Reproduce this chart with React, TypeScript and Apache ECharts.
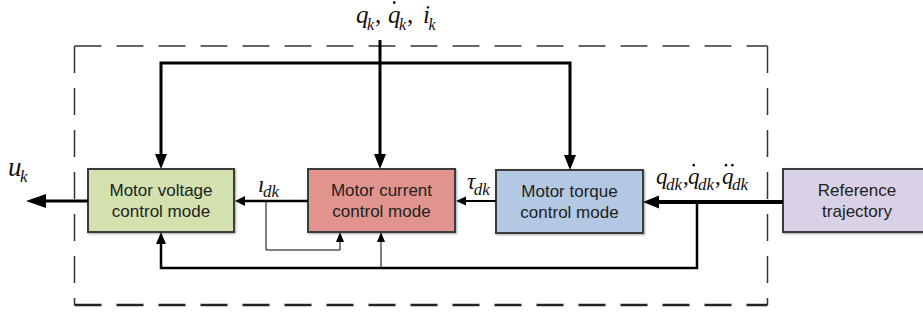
import React, { useEffect, useRef } from "react";
import * as echarts from "echarts";

// ---- diagram content ----
const blockLabels = [
  "Motor voltage\ncontrol mode",
  "Motor current\ncontrol mode",
  "Motor torque\ncontrol mode",
  "Reference\ntrajectory",
];
// acc: number of dots above the symbol (time derivatives)
const measuredSignals = [
  { base: "q", sub: "k", acc: 0 },
  { base: "q", sub: "k", acc: 1 },
  { base: "i", sub: "k", acc: 0 },
];
const desiredSignals = [
  { base: "q", sub: "dk", acc: 0 },
  { base: "q", sub: "dk", acc: 1 },
  { base: "q", sub: "dk", acc: 2 },
];
const currentRefSignal = [{ base: "ı", sub: "dk", acc: 0 }];
const torqueRefSignal = [{ base: "τ", sub: "dk", acc: 0 }];
const outputSignal = [{ base: "u", sub: "k", acc: 0 }];

type Part = { base: string; sub: string; acc: number };

const SERIF = '"Liberation Serif", "Times New Roman", serif';
const SANS = '"Liberation Sans", Arial, sans-serif';

let measureCtx: CanvasRenderingContext2D | null = null;
function measure(text: string, size: number) {
  if (!measureCtx) measureCtx = document.createElement("canvas").getContext("2d");
  measureCtx!.font = `italic ${size}px ${SERIF}`;
  return measureCtx!.measureText(text).width;
}

function txt(text: string, x: number, baseline: number, size: number, italic = true) {
  return {
    type: "text",
    silent: true,
    x,
    y: baseline - 0.34 * size,
    style: {
      text,
      fontSize: size,
      fontFamily: SERIF,
      fontStyle: italic ? "italic" : "normal",
      fill: "#111",
      align: "left",
      verticalAlign: "middle",
      textAlign: "left",
      textVerticalAlign: "middle",
    },
  };
}

function mathLabel(
  parts: Part[],
  xs: number[],
  baseline: number,
  size: number,
  subSize: number,
  subDrop: number
) {
  const els: any[] = [];
  parts.forEach((p, i) => {
    const x = xs[i];
    els.push(txt(p.base, x, baseline, size));
    const w = measure(p.base, size);
    for (let d = 0; d < p.acc; d++) {
      const cx = p.acc === 1 ? x + w * 0.5 : x + w * 0.35 + d * w * 0.55;
      els.push({
        type: "circle",
        silent: true,
        shape: { cx, cy: baseline - 0.82 * size, r: 1.4 },
        style: { fill: "#111" },
      });
    }
    const sx = x + w - 1.5;
    els.push(txt(p.sub, sx, baseline + subDrop, subSize));
    if (i < parts.length - 1) {
      const sw = measure(p.sub, subSize);
      els.push(txt(",", sx + sw + 1, baseline, size, false));
    }
  });
  return els;
}

function head(tipX: number, tipY: number, dir: "l" | "r" | "u" | "d", len: number, half: number) {
  let pts: number[][];
  if (dir === "l") pts = [[tipX, tipY], [tipX + len, tipY - half], [tipX + len, tipY + half]];
  else if (dir === "r") pts = [[tipX, tipY], [tipX - len, tipY - half], [tipX - len, tipY + half]];
  else if (dir === "d") pts = [[tipX, tipY], [tipX - half, tipY - len], [tipX + half, tipY - len]];
  else pts = [[tipX, tipY], [tipX - half, tipY + len], [tipX + half, tipY + len]];
  return { type: "polygon", silent: true, shape: { points: pts }, style: { fill: "#000" } };
}

function poly(points: number[][], lw: number, color = "#000", dash?: number[]) {
  return {
    type: "polyline",
    silent: true,
    shape: { points },
    style: { stroke: color, lineWidth: lw, fill: "none", lineDash: dash },
  };
}

export default function App() {
  const ref = useRef<HTMLDivElement>(null);
  useEffect(() => {
    if (!ref.current) return;
    const chart = echarts.init(ref.current, undefined, { renderer: "svg" });

    const boxes = [
      { x: 88, y: 169, w: 146, h: 63, fill: "#d3e1af" },
      { x: 308, y: 169, w: 147, h: 63, fill: "#e1948e" },
      { x: 496, y: 170, w: 147, h: 63, fill: "#b3c8e2" },
      { x: 783, y: 169, w: 148, h: 63, fill: "#d9d1e5" },
    ];

    const els: any[] = [];

    // dashed controller boundary
    const dash = [27, 15];
    els.push(poly([[74.5, 46], [767.5, 46]], 1.5, "#333", dash));
    els.push(poly([[74.5, 46], [74.5, 305]], 1.5, "#333", dash));
    els.push(poly([[767.5, 46], [767.5, 305]], 1.5, "#333", dash));
    els.push(poly([[74.5, 305], [767.5, 305]], 2.5, "#222", dash));

    // blocks
    boxes.forEach((b, i) => {
      els.push({
        type: "rect",
        silent: true,
        shape: { x: b.x, y: b.y, width: b.w, height: b.h },
        style: {
          fill: b.fill,
          stroke: "#3a3a3a",
          lineWidth: 2,
          shadowBlur: 2,
          shadowOffsetX: 1,
          shadowOffsetY: 1,
          shadowColor: "rgba(0,0,0,0.35)",
        },
      });
      els.push({
        type: "text",
        silent: true,
        x: b.x + b.w / 2,
        y: b.y + b.h / 2,
        style: {
          text: blockLabels[i],
          fontSize: 17,
          fontFamily: SANS,
          fill: "#222",
          lineHeight: 21,
          align: "center",
          verticalAlign: "middle",
          textAlign: "center",
          textVerticalAlign: "middle",
        },
      });
    });

    // top feedback bus (measured states)
    els.push(poly([[161, 155], [161, 63], [570, 63], [570, 156]], 3));
    els.push(head(161, 169, "d", 15, 6));
    els.push(head(570, 170, "d", 15, 6));
    els.push(poly([[380, 40], [380, 155]], 3));
    els.push(head(380, 169, "d", 15, 6));

    // output u_k
    els.push(poly([[88, 201], [42, 201]], 3));
    els.push(head(26, 201, "l", 20, 7));

    // current -> voltage
    els.push(poly([[308, 201], [243, 201]], 2.5));
    els.push(head(235, 201, "l", 10, 5));

    // i_dk branch into current block bottom
    els.push(poly([[266, 201], [266, 250], [340, 250], [340, 241]], 1));
    els.push(head(340, 232, "u", 10, 4));

    // torque -> current
    els.push(poly([[496, 201], [465, 201]], 2));
    els.push(head(456, 201, "l", 10, 4.5));

    // reference -> torque
    els.push(poly([[783, 202], [655, 202]], 4));
    els.push(head(643, 202, "l", 16, 6.5));

    // reference branch along bottom
    els.push(poly([[697, 202], [697, 268], [161, 268], [161, 244]], 2.5));
    els.push(head(161, 232, "u", 12, 5));
    els.push(poly([[381, 268], [381, 241]], 1));
    els.push(head(381, 232, "u", 10, 4));

    // signal labels
    els.push(...mathLabel(measuredSignals, [356, 388, 423], 23, 25, 16, 7));
    els.push(...mathLabel(desiredSignals, [656, 688, 722], 184, 23, 17, 6));
    els.push(...mathLabel(currentRefSignal, [258], 192, 23, 17, 5));
    els.push(...mathLabel(torqueRefSignal, [467], 189, 23, 17, 6));
    els.push(...mathLabel(outputSignal, [8], 176, 27, 17, 6));

    chart.setOption({
      animation: false,
      backgroundColor: "#ffffff",
      graphic: { elements: els },
    });
    return () => chart.dispose();
  }, []);

  return (
    <div
      ref={ref}
      style={{ position: "fixed", left: 0, top: 0, width: 923, height: 313, background: "#fff" }}
    />
  );
}
